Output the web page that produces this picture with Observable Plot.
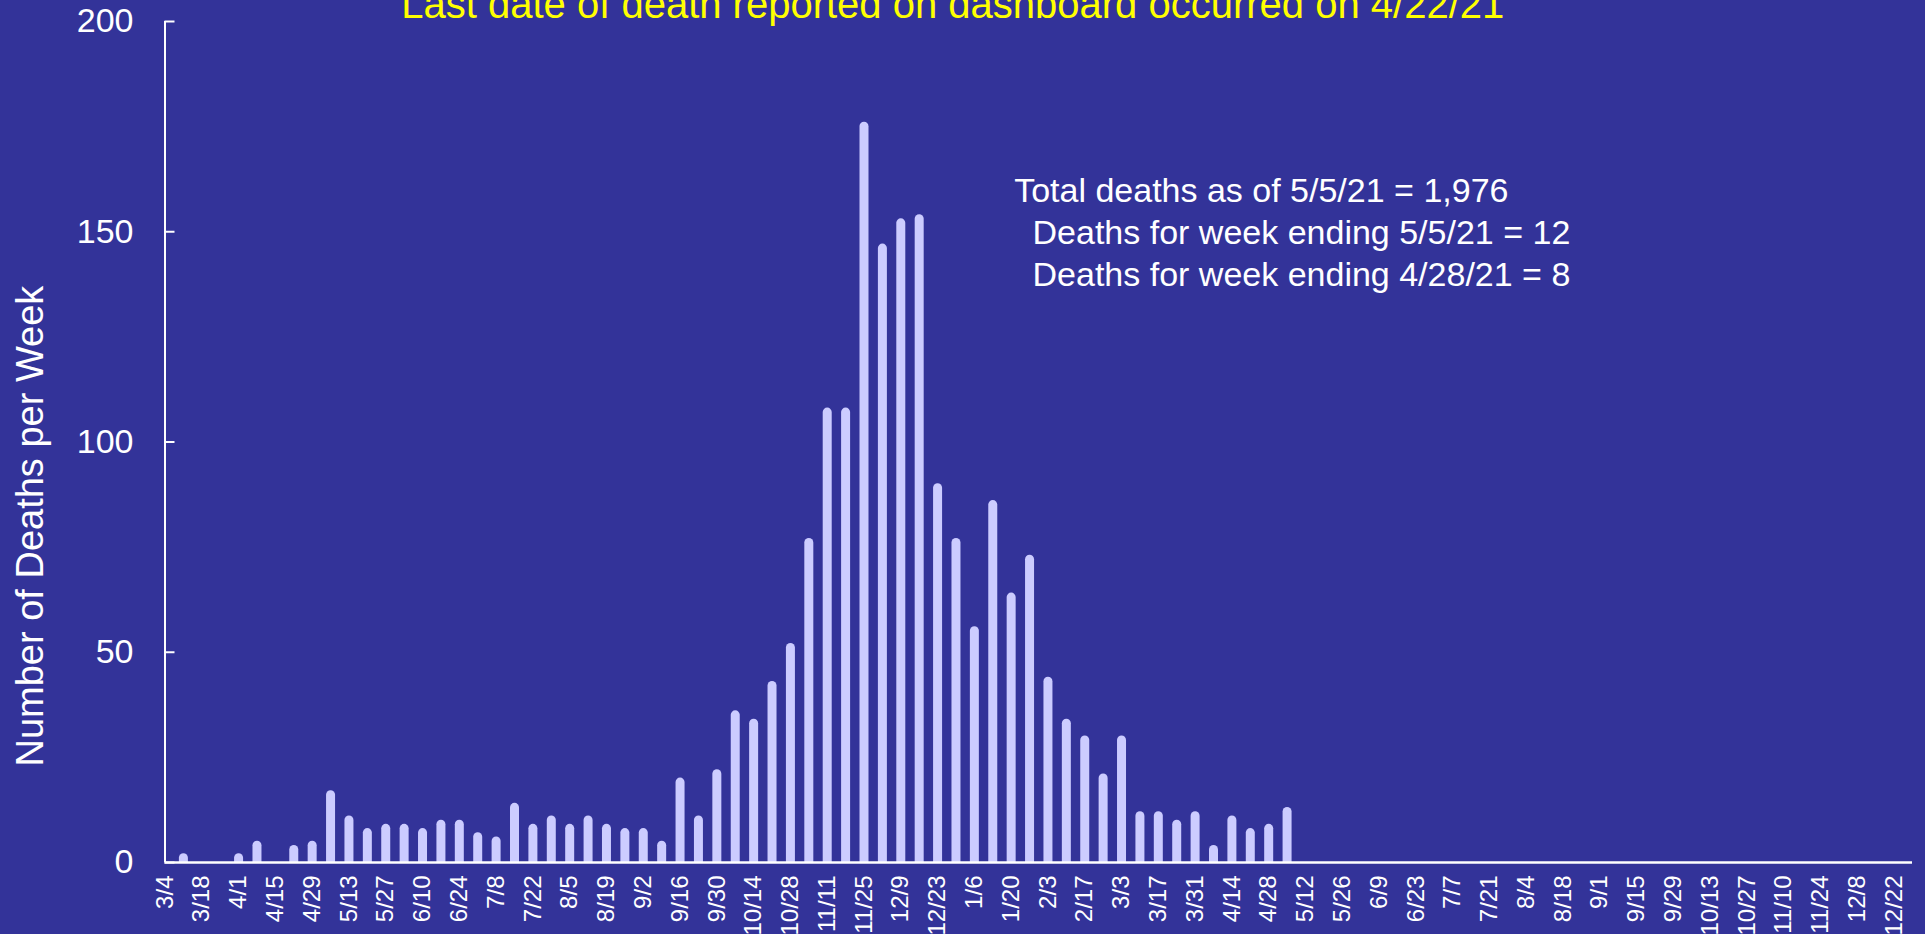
<!DOCTYPE html>
<html>
<head>
<meta charset="utf-8">
<script src="https://cdn.jsdelivr.net/npm/d3@7"></script>
<script src="https://cdn.jsdelivr.net/npm/@observablehq/plot@0.6"></script>
<style>
  html, body { margin: 0; padding: 0; background: #333399; overflow: hidden; }
  #chart svg { display: block; }
</style>
</head>
<body>
<div id="chart"></div>
<script>
// Week ending dates (3/4/2020 .. 12/29/2021)
const weeks = [
  "3/4","3/11","3/18","3/25","4/1","4/8","4/15","4/22","4/29","5/6","5/13","5/20","5/27",
  "6/3","6/10","6/17","6/24","7/1","7/8","7/15","7/22","7/29","8/5","8/12","8/19","8/26",
  "9/2","9/9","9/16","9/23","9/30","10/7","10/14","10/21","10/28","11/4","11/11","11/18","11/25",
  "12/2","12/9","12/16","12/23","12/30",
  "1/6","1/13","1/20","1/27","2/3","2/10","2/17","2/24","3/3","3/10","3/17","3/24","3/31",
  "4/7","4/14","4/21","4/28","5/5","5/12","5/19","5/26","6/2","6/9","6/16","6/23","6/30",
  "7/7","7/14","7/21","7/28","8/4","8/11","8/18","8/25","9/1","9/8","9/15","9/22","9/29",
  "10/6","10/13","10/20","10/27","11/3","11/10","11/17","11/24","12/1","12/8","12/15","12/22","12/29"
];

// Deaths per week
const deaths = [
  0,1,0,0,1,4,0,3,4,16,10,7,8,
  8,7,9,9,6,5,13,8,10,8,10,8,7,
  7,4,19,10,21,35,33,42,51,76,107,107,175,
  146,152,153,89,76,
  55,85,63,72,43,33,29,20,29,11,11,9,11,
  3,10,7,8,12,0,0,0,0,0,0,0,0,
  0,0,0,0,0,0,0,0,0,0,0,0,0,
  0,0,0,0,0,0,0,0,0,0,0,0,0
];

// Tick labels shown on the x axis (every other week)
const xTickLabels = [
  "3/4","3/18","4/1","4/15","4/29","5/13","5/27","6/10","6/24","7/8","7/22","8/5","8/19",
  "9/2","9/16","9/30","10/14","10/28","11/11","11/25","12/9","12/23","1/6","1/20","2/3","2/17",
  "3/3","3/17","3/31","4/14","4/28","5/12","5/26","6/9","6/23","7/7","7/21","8/4","8/18",
  "9/1","9/15","9/29","10/13","10/27","11/10","11/24","12/8","12/22"
];
const yTicks = [0, 50, 100, 150, 200];

const titleText = "Last date of death reported on dashboard occurred on 4/22/21";
const yTitle = "Number of Deaths per Week";
const noteTexts = [
  "Total deaths as of 5/5/21 = 1,976",
  "Deaths for week ending 5/5/21 = 12",
  "Deaths for week ending 4/28/21 = 8"
];
const noteWeeks = ["1/20", "1/27", "1/27"];
const noteValues = [157, 147, 137];

const data = weeks.map((w, i) => ({week: w, value: deaths[i]}));
const notes = noteTexts.map((t, i) => ({text: t, week: noteWeeks[i], value: noteValues[i]}));

const FONT = "'Liberation Sans', Arial, Helvetica, sans-serif";
const BAR = "#CCCCFF";

const chart = Plot.plot({
  width: 1925,
  height: 934,
  marginLeft: 164.5,
  marginRight: 13,
  marginTop: 21,
  marginBottom: 72,
  style: {background: "#333399", color: "white", fontFamily: FONT, overflow: "visible"},
  x: {type: "point", domain: weeks, padding: 0, axis: null},
  y: {domain: [0, 200], axis: null},
  marks: [
    Plot.ruleX(data.filter(d => d.value > 0), {
      x: "week", y1: 0, y2: "value",
      stroke: BAR, strokeWidth: 9, strokeLinecap: "round", clip: true
    }),
    Plot.ruleX([weeks[0]], {stroke: "white", strokeWidth: 2}),
    Plot.ruleY([0], {stroke: "white", strokeWidth: 2.5}),
    Plot.axisY(yTicks, {tickSize: -10, stroke: "white", strokeWidth: 2, fill: "none", label: null}),
    Plot.axisY(yTicks, {tickSize: 0, tickPadding: 31.5, fontSize: 34, fill: "white", label: null}),
    Plot.axisX(xTickLabels, {tickSize: 0, tickPadding: 13, tickRotate: -90, fontSize: 24, fill: "white", label: null}),
    Plot.text([{label: yTitle, y: 80}], {
      y: "y", text: "label", frameAnchor: "left", textAnchor: "middle", rotate: -90, dx: -134.5,
      fontSize: 38, fill: "white"
    }),
    Plot.text([titleText], {
      frameAnchor: "top", lineAnchor: "bottom", dy: -4, dx: -86,
      fontSize: 40, fill: "#FFFF00"
    }),
    Plot.text(notes, {
      x: "week", y: "value", text: "text", textAnchor: "start", lineAnchor: "bottom",
      dx: 3, fontSize: 34, fill: "white"
    })
  ]
});
document.getElementById("chart").appendChild(chart);
</script>
</body>
</html>
